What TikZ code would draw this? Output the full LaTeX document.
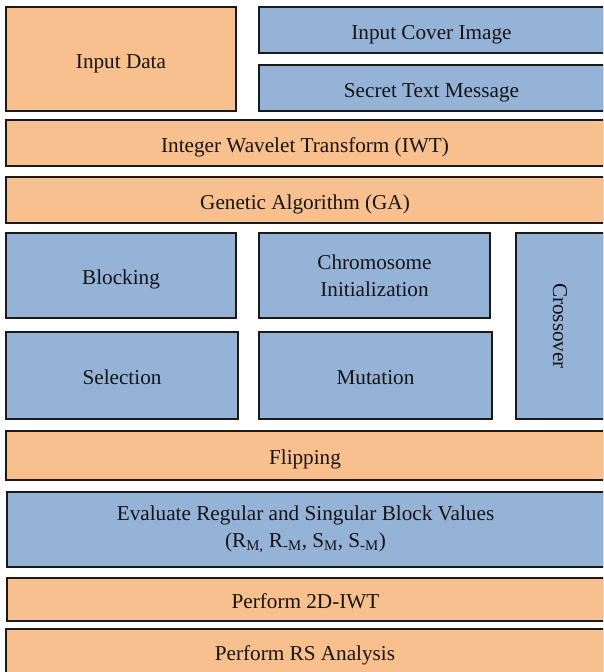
\documentclass[tikz,border=0pt]{standalone}
\usepackage{fontspec}
\setmainfont{Liberation Serif}
\definecolor{orangefill}{HTML}{F9C08F}
\definecolor{bluefill}{HTML}{95B3D7}
\definecolor{edge}{HTML}{1A1A1A}
\begin{document}
\begin{tikzpicture}[x=1pt,y=-1pt,
  box/.style={draw=edge, line width=1.8pt, inner sep=0pt, outer sep=0pt,
    font=\fontsize{21.2}{27}\selectfont, text=black!92},
  one/.style={text height=21pt, text depth=3pt},
  obox/.style={box, fill=orangefill},
  bbox/.style={box, fill=bluefill}]
\clip (0,0) rectangle (603,672);
\useasboundingbox (0,0) rectangle (603,672);
\fill[white] (0,0) rectangle (603,672);
\node[obox, one, minimum width=230pt, minimum height=104pt] (input) at (121,59) {Input Data};
\node[bbox, one, minimum width=345pt, minimum height=46pt] (cover) at (431.5,30) {Input Cover Image};
\node[bbox, one, minimum width=345pt, minimum height=46pt] (secret) at (431.5,88) {Secret Text Message};
\node[obox, one, minimum width=598pt, minimum height=46pt] (iwt) at (305,143) {Integer Wavelet Transform (IWT)};
\node[obox, one, minimum width=598pt, minimum height=46pt] (ga) at (305,200) {Genetic Algorithm (GA)};
\node[bbox, one, minimum width=230pt, minimum height=85pt] (blocking) at (121,275.5) {Blocking};
\node[bbox, align=center, minimum width=231pt, minimum height=85pt] (chromo) at (374.5,275.5) {Chromosome\\Initialization};
\node[bbox, one, minimum width=232pt, minimum height=87pt] (selection) at (122,375.5) {Selection};
\node[bbox, one, minimum width=233pt, minimum height=87pt] (mutation) at (375.5,375.5) {Mutation};
\node[bbox, minimum width=88pt, minimum height=186pt] (crossover) at (560,326) {};
\node[rotate=-90, font=\fontsize{21.2}{27}\selectfont, text=black!92] (crosstext) at (crossover.center) {Crossover};
\node[obox, one, minimum width=598pt, minimum height=49pt] (flip) at (305,455.5) {Flipping};
\node[bbox, align=center, minimum width=597pt, minimum height=75pt] (eval) at (305.5,529.5) {Evaluate Regular and Singular Block Values\\(R\textsubscript{M,} R\textsubscript{-M}, S\textsubscript{M}, S\textsubscript{-M})};
\node[obox, one, minimum width=597pt, minimum height=43pt] (iwt2) at (305.5,599.5) {Perform 2D-IWT};
\node[obox, one, minimum width=598pt, minimum height=45pt] (rs) at (305,651.5) {Perform RS Analysis};
\end{tikzpicture}
\end{document}
